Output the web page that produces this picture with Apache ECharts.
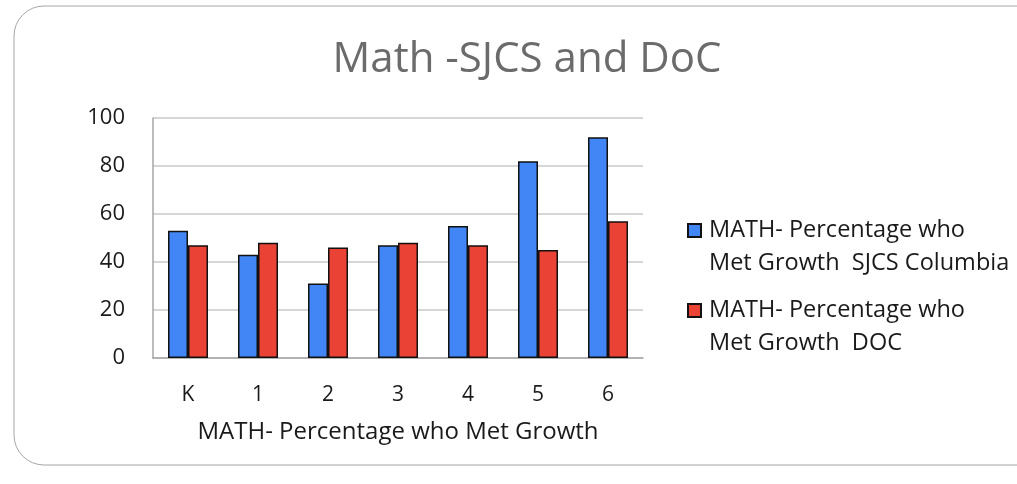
<!DOCTYPE html>
<html>
<head>
<meta charset="utf-8">
<script src="https://cdn.jsdelivr.net/npm/echarts@6/dist/echarts.min.js"></script>
<style>
  html, body { margin: 0; padding: 0; background: #fff; }
  #main { width: 1017px; height: 484px; }
</style>
</head>
<body>
<div id="main"></div>
<script>
// grades on the x axis
const grades = ['K', '1', '2', '3', '4', '5', '6'];
// percentage who met growth
const sjcsValues = [53, 43, 31, 47, 55, 82, 92];
const docValues = [47, 48, 46, 48, 47, 45, 57];
const yTicks = [0, 20, 40, 60, 80, 100];

const sjcsName = 'MATH- Percentage who Met Growth  SJCS Columbia';
const docName = 'MATH- Percentage who Met Growth  DOC';

window.onload = function () {
    let myChart = echarts.init(document.getElementById('main'));
    const font = '"Open Sans", "Liberation Sans", sans-serif';

    let option = {
        backgroundColor: '#fff',
        textStyle: { fontFamily: font },
        title: {
            text: 'Math -SJCS and DoC',
            left: 522,
            textAlign: 'center',
            top: 34,
            textStyle: { fontSize: 42, fontWeight: 'normal', color: '#6b6b6b', fontFamily: font }
        },
        graphic: [{
            type: 'rect',
            shape: { x: 14, y: 6, width: 1040, height: 459, r: 30 },
            style: { fill: 'none', stroke: '#a6a6a6', lineWidth: 1 },
            silent: true
        }],
        legend: {
            orient: 'vertical',
            left: 682,
            top: 176,
            itemWidth: 13,
            itemHeight: 13,
            itemGap: -19,
            icon: 'rect',
            data: [sjcsName, docName],
            // a blank first line keeps the icon level with the first text line
            formatter: function (name) {
                return '\n' + name.replace('who ', 'who\n');
            },
            textStyle: { fontSize: 23.5, color: '#1a1a1a', lineHeight: 33, fontFamily: font, padding: [0, 0, 0, 3] }
        },
        grid: { left: 153, right: 374, top: 118, bottom: 126 },
        xAxis: {
            type: 'category',
            data: grades,
            name: 'MATH- Percentage who Met Growth',
            nameLocation: 'middle',
            nameGap: 62,
            nameTextStyle: { fontSize: 24, color: '#1a1a1a', fontFamily: font },
            axisLine: { lineStyle: { color: '#a6a6a6', width: 1.5 } },
            axisTick: { show: false },
            axisLabel: { fontSize: 21, color: '#1a1a1a', margin: 27, fontFamily: font }
        },
        yAxis: {
            type: 'value',
            min: 0,
            max: 100,
            interval: 20,
            axisLine: { show: true, lineStyle: { color: '#a6a6a6', width: 1.5 } },
            axisTick: { show: false },
            splitLine: { lineStyle: { color: '#c8c8c8', width: 1.5 } },
            axisLabel: {
                fontSize: 22, color: '#1a1a1a', margin: 28, fontFamily: font,
                formatter: function (v) { return yTicks.indexOf(v) >= 0 ? String(v) : ''; }
            }
        },
        series: [
            {
                name: sjcsName,
                type: 'bar',
                data: sjcsValues,
                barWidth: 20,
                barGap: '0%',
                itemStyle: { color: '#4285f4', borderColor: '#111', borderWidth: 1.5 }
            },
            {
                name: docName,
                type: 'bar',
                data: docValues,
                barWidth: 20,
                barGap: '0%',
                itemStyle: { color: '#ea4335', borderColor: '#111', borderWidth: 1.5 }
            }
        ]
    };
    myChart.setOption(option);
};
</script>
</body>
</html>
